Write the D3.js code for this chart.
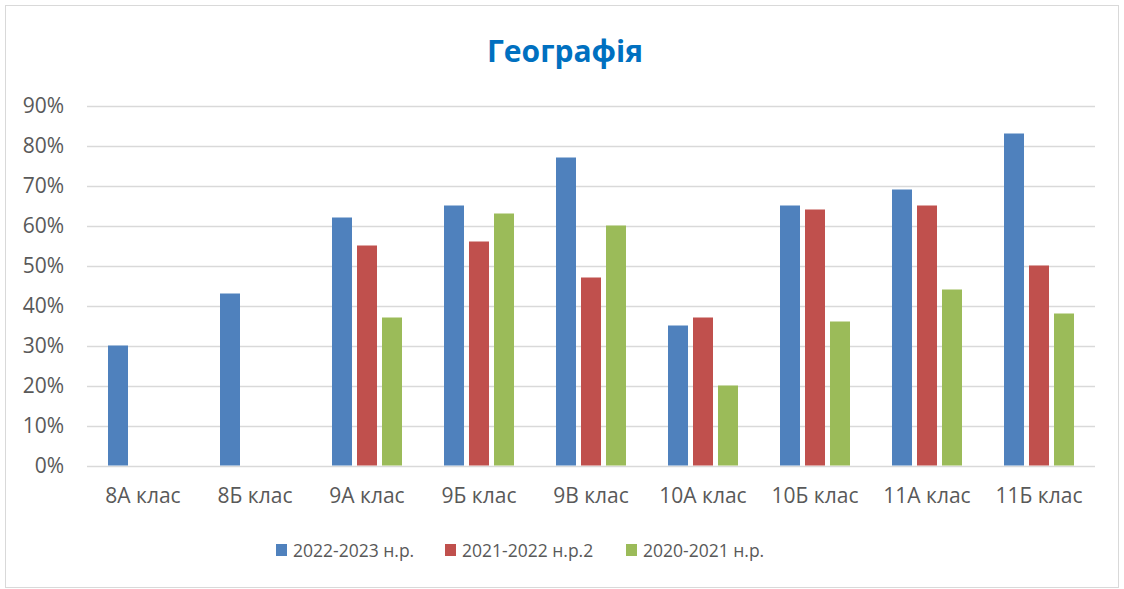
<!DOCTYPE html>
<html>
  <head>
    <meta charset="utf-8">
    <title>Географія</title>
    <script src="https://d3js.org/d3.v7.min.js"></script>
    <style>
      body { margin: 0; background: #fff; }
      text { font-family: "Open Sans", "DejaVu Sans", sans-serif; }
    </style>
  </head>
  <body>
    <script>
      var categories = ["8А клас", "8Б клас", "9А клас", "9Б клас", "9В клас", "10А клас", "10Б клас", "11А клас", "11Б клас"];
      var seriesNames = ["2022-2023 н.р.", "2021-2022 н.р.2", "2020-2021 н.р."];
      var s2022 = [30, 43, 62, 65, 77, 35, 65, 69, 83];
      var s2021 = [null, null, 55, 56, 47, 37, 64, 65, 50];
      var s2020 = [null, null, 37, 63, 60, 20, 36, 44, 38];
      var yTicks = [0, 10, 20, 30, 40, 50, 60, 70, 80, 90];
      var colors = ["#4F81BD", "#C0504D", "#9BBB59"];

      var W = 1124, H = 589;
      var svg = d3.select("body").append("svg")
                  .attr("width", W)
                  .attr("height", H);

      svg.append("rect")
         .attr("x", 5.5).attr("y", 5.5)
         .attr("width", 1113).attr("height", 582)
         .attr("fill", "#fff")
         .attr("stroke", "#d9d9d9");

      svg.append("text")
         .attr("x", 565).attr("y", 62)
         .attr("text-anchor", "middle")
         .attr("fill", "#0070C0")
         .attr("font-size", 30)
         .attr("font-weight", "bold")
         .text("Географія");

      var plotL = 87, plotR = 1095, plotT = 105.5, plotB = 465.5;

      var x = d3.scaleBand().domain(categories).range([plotL, plotR]);
      var y = d3.scaleLinear().domain([0, 90]).range([plotB, plotT]);
      var inner = d3.scaleBand().domain([0, 1, 2])
                    .range([21, x.bandwidth() - 21])
                    .paddingInner(0.2);

      // gridlines
      svg.append("g").selectAll("line")
         .data(yTicks)
         .enter().append("line")
         .attr("x1", plotL).attr("x2", plotR)
         .attr("y1", function(d) { return Math.round(y(d)) + 0.5; })
         .attr("y2", function(d) { return Math.round(y(d)) + 0.5; })
         .attr("stroke", "#d9d9d9")
         .attr("stroke-width", 1.3);

      var yAxis = d3.axisLeft(y).tickValues(yTicks)
                    .tickFormat(function(d) { return d + "%"; })
                    .tickSize(0).tickPadding(23);
      var ga = svg.append("g").attr("transform", "translate(" + plotL + ",0)").call(yAxis);
      ga.select(".domain").remove();
      ga.selectAll("text").attr("font-size", 21).attr("fill", "#595959")
        .attr("font-family", "'Open Sans', sans-serif");

      var xAxis = d3.axisBottom(x).tickSize(0).tickPadding(23);
      var gx = svg.append("g").attr("transform", "translate(0," + plotB + ")").call(xAxis);
      gx.select(".domain").remove();
      gx.selectAll("text").attr("font-size", 21).attr("fill", "#595959")
        .attr("font-family", "'Open Sans', sans-serif");

      var series = [s2022, s2021, s2020];
      series.forEach(function(vals, si) {
        svg.append("g").selectAll("rect")
           .data(vals.map(function(v, i) { return { cat: categories[i], v: v }; })
                     .filter(function(d) { return d.v !== null; }))
           .enter().append("rect")
           .attr("x", function(d) { return x(d.cat) + inner(si); })
           .attr("width", inner.bandwidth())
           .attr("y", function(d) { return y(d.v); })
           .attr("height", function(d) { return y(0) - y(d.v); })
           .attr("fill", colors[si]);
      });

      // legend
      var legendX = [276, 445, 626];
      var lg = svg.append("g").selectAll("g")
                  .data(seriesNames)
                  .enter().append("g")
                  .attr("transform", function(d, i) { return "translate(" + legendX[i] + ",550)"; });
      lg.append("rect")
        .attr("x", 0).attr("y", -6)
        .attr("width", 11).attr("height", 12)
        .attr("fill", function(d, i) { return colors[i]; });
      lg.append("text")
        .attr("x", 17).attr("y", 7)
        .attr("font-size", 17.5)
        .attr("fill", "#595959")
        .text(function(d) { return d; });
    </script>
  </body>
</html>
